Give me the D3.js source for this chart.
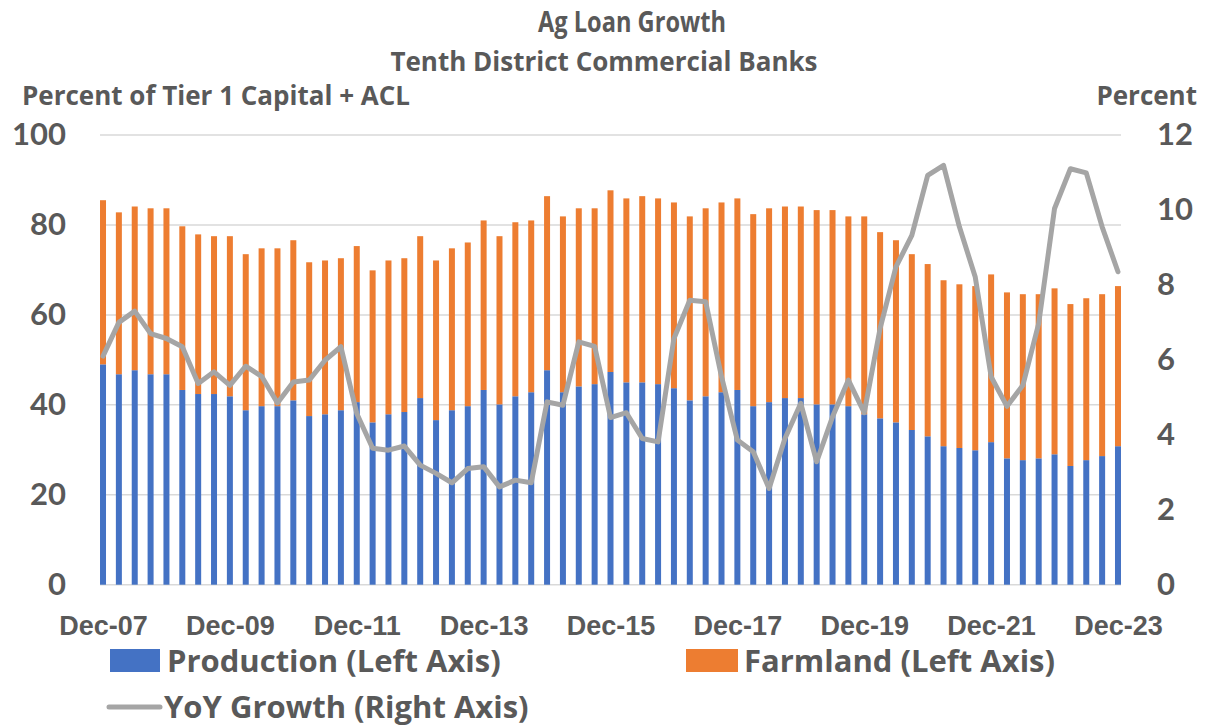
<!DOCTYPE html>
<html>
<head>
<meta charset="utf-8">
<script src="https://cdn.jsdelivr.net/npm/d3@7"></script>
<style>
  body { margin: 0; background: #fff; }
  svg { display: block; font-family: "Open Sans", Lato, sans-serif; font-weight: bold; }
  .axis text { fill: #595959; }
</style>
</head>
<body>
<div id="chart"></div>
<script>
// Chart size and plot box
const WIDTH = 1226;
const HEIGHT = 726;
const PLOT = { left: 100, right: 1121, top: 135, bottom: 584.7 };

// Quarter labels Dec-07 .. Dec-23
const MONTHS = ["Dec", "Mar", "Jun", "Sep"];
let quarters = [];
for (let i = 0; i < 65; i++) {
  const yr = 7 + Math.floor((i + 3) / 4);
  quarters.push(`${MONTHS[i % 4]}-${String(yr).padStart(2, "0")}`);
}
const tickLabels = ["Dec-07", "Dec-09", "Dec-11", "Dec-13", "Dec-15", "Dec-17", "Dec-19", "Dec-21", "Dec-23"];

// Percent of Tier 1 capital + ACL
const production = [
  49.0, 46.8, 47.7, 46.8, 46.8, 43.3, 42.4, 42.4, 41.9, 38.8, 39.7, 39.7, 41.0, 37.5, 37.9, 38.8, 40.6,
  36.1, 37.9, 38.4, 41.5, 36.6, 38.8, 39.7, 43.3, 40.1, 41.9, 42.8, 47.7, 42.8, 44.1, 44.6,
  47.3, 45.0, 45.0, 44.6, 43.7, 41.0, 41.9, 42.8, 43.3, 39.7, 40.6, 41.5, 41.5, 40.1, 40.1, 39.7, 37.9,
  37.0, 36.1, 34.4, 33.0, 30.8, 30.4, 29.9, 31.7, 28.1, 27.7, 28.1, 29.0, 26.4, 27.7, 28.6, 30.8
];
const farmland = [
  36.5, 36.0, 36.4, 36.9, 36.9, 36.4, 35.5, 35.1, 35.6, 34.7, 35.1, 35.1, 35.6, 34.2, 34.2, 33.8, 34.7,
  33.8, 34.2, 34.2, 36.0, 35.5, 36.0, 36.4, 37.7, 37.4, 38.7, 38.2, 38.7, 39.1, 39.6, 39.1,
  40.4, 40.9, 41.4, 41.3, 41.3, 40.9, 41.8, 42.2, 42.6, 42.7, 43.1, 42.6, 42.6, 43.2, 43.2, 42.2, 44.0,
  41.4, 40.5, 39.1, 38.3, 36.9, 36.4, 36.5, 37.3, 36.9, 36.9, 36.5, 36.9, 36.0, 36.0, 36.0, 35.6
];
// YoY growth, percent (right axis)
const yoyGrowth = [
  6.10, 7.00, 7.30, 6.70, 6.57, 6.35, 5.37, 5.68, 5.32, 5.83, 5.56, 4.85, 5.41, 5.46, 5.99, 6.35, 4.57,
  3.64, 3.59, 3.70, 3.19, 2.97, 2.72, 3.10, 3.15, 2.61, 2.79, 2.72, 4.88, 4.79, 6.48, 6.36,
  4.46, 4.59, 3.90, 3.81, 6.57, 7.59, 7.55, 5.55, 3.86, 3.55, 2.57, 3.90, 4.84, 3.28, 4.48, 5.46, 4.59,
  6.84, 8.48, 9.32, 10.92, 11.19, 9.55, 8.21, 5.55, 4.76, 5.32, 6.97, 10.04, 11.10, 10.99, 9.55, 8.35
];

const leftTicks = [0, 20, 40, 60, 80, 100];
const rightTicks = [0, 2, 4, 6, 8, 10, 12];

const COLORS = { production: "#4472C4", farmland: "#ED7D31", yoy: "#A5A5A5", grid: "#D9D9D9", text: "#595959" };
const BAR_WIDTH = 6;

const svg = d3.select("#chart").append("svg")
  .attr("width", WIDTH)
  .attr("height", HEIGHT);

const xscale = d3.scalePoint().domain(quarters).range([PLOT.left, PLOT.right]).padding(0.19);
const yscale = d3.scaleLinear().domain([0, 100]).range([PLOT.bottom, PLOT.top]);
const yscaleR = d3.scaleLinear().domain([0, 12]).range([PLOT.bottom, PLOT.top]);

// gridlines
svg.append("g")
  .selectAll("line")
  .data(leftTicks)
  .enter()
  .append("line")
  .attr("x1", PLOT.left)
  .attr("x2", PLOT.right)
  .attr("y1", (d) => yscale(d))
  .attr("y2", (d) => yscale(d))
  .attr("stroke", COLORS.grid)
  .attr("stroke-width", 1.5);

// stacked bars
const rows = quarters.map((q, i) => ({ q: q, prod: production[i], farm: farmland[i] }));
const bars = svg.append("g");
bars.selectAll(".prod")
  .data(rows)
  .enter()
  .append("rect")
  .attr("class", "prod")
  .attr("x", (d) => xscale(d.q) - BAR_WIDTH / 2)
  .attr("y", (d) => yscale(d.prod))
  .attr("width", BAR_WIDTH)
  .attr("height", (d) => yscale(0) - yscale(d.prod))
  .attr("fill", COLORS.production);
bars.selectAll(".farm")
  .data(rows)
  .enter()
  .append("rect")
  .attr("class", "farm")
  .attr("x", (d) => xscale(d.q) - BAR_WIDTH / 2)
  .attr("y", (d) => yscale(d.prod + d.farm))
  .attr("width", BAR_WIDTH)
  .attr("height", (d) => yscale(d.prod) - yscale(d.prod + d.farm))
  .attr("fill", COLORS.farmland);

// YoY line
const line = d3.line()
  .x((_, i) => xscale(quarters[i]))
  .y((d) => yscaleR(d));
svg.append("path")
  .datum(yoyGrowth)
  .attr("d", line)
  .attr("fill", "none")
  .attr("stroke", COLORS.yoy)
  .attr("stroke-width", 5)
  .attr("stroke-linejoin", "round")
  .attr("stroke-linecap", "round");

// axes
const xAxis = d3.axisBottom(xscale).tickValues(tickLabels).tickSize(0).tickPadding(31);
const gx = svg.append("g")
  .attr("class", "axis")
  .attr("transform", `translate(0, ${PLOT.bottom})`)
  .call(xAxis);
gx.select(".domain").remove();
gx.selectAll("text").style("font-size", "27px");

const gy = svg.append("g")
  .attr("class", "axis")
  .attr("transform", `translate(${PLOT.left}, 0)`)
  .call(d3.axisLeft(yscale).tickValues(leftTicks).tickSize(0).tickPadding(34));
gy.select(".domain").remove();
gy.selectAll("text").style("font-family", "Lato").style("font-size", "31px");

const gyR = svg.append("g")
  .attr("class", "axis")
  .attr("transform", `translate(${PLOT.right}, 0)`)
  .call(d3.axisRight(yscaleR).tickValues(rightTicks).tickSize(0).tickPadding(36));
gyR.select(".domain").remove();
gyR.selectAll("text").style("font-family", "Lato").style("font-size", "31px");

// titles
svg.append("text").attr("x", 632).attr("y", 32).attr("text-anchor", "middle")
  .attr("fill", COLORS.text).style("font-size", "29px")
  .attr("textLength", 188).attr("lengthAdjust", "spacingAndGlyphs")
  .text("Ag Loan Growth");
svg.append("text").attr("x", 604).attr("y", 71).attr("text-anchor", "middle")
  .attr("fill", COLORS.text).style("font-size", "26px").text("Tenth District Commercial Banks");
svg.append("text").attr("x", 22).attr("y", 105)
  .attr("fill", COLORS.text).style("font-size", "26px").text("Percent of Tier 1 Capital + ACL");
svg.append("text").attr("x", 1197).attr("y", 105).attr("text-anchor", "end")
  .attr("fill", COLORS.text).style("font-size", "26px").text("Percent");

// legend
const legend = svg.append("g").style("font-size", "31px");
legend.append("rect").attr("x", 110).attr("y", 649).attr("width", 50).attr("height", 23).attr("fill", COLORS.production);
legend.append("text").attr("x", 167).attr("y", 672).attr("fill", COLORS.text).text("Production (Left Axis)");
legend.append("rect").attr("x", 686).attr("y", 649).attr("width", 52).attr("height", 23).attr("fill", COLORS.farmland);
legend.append("text").attr("x", 744).attr("y", 672).attr("fill", COLORS.text).text("Farmland (Left Axis)");
legend.append("line").attr("x1", 109).attr("x2", 160).attr("y1", 707).attr("y2", 707)
  .attr("stroke", COLORS.yoy).attr("stroke-width", 5).attr("stroke-linecap", "round");
legend.append("text").attr("x", 164).attr("y", 718).attr("fill", COLORS.text).text("YoY Growth (Right Axis)");
</script>
</body>
</html>
